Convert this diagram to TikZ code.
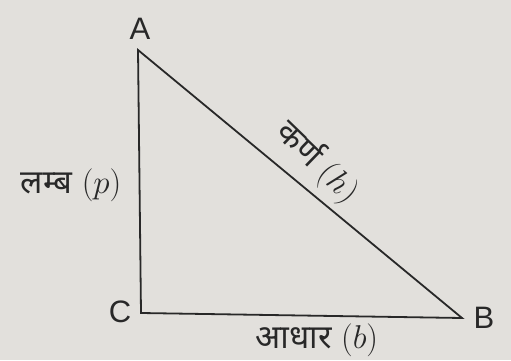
\RequirePackage{fix-cm}
\documentclass[tikz,border=0pt]{standalone}
\usepackage{fontspec}
\setmainfont{Liberation Sans}
\newfontfamily\devfont[Script=Devanagari]{Noto Sans}
\definecolor{bgc}{RGB}{226,224,220}
\definecolor{inkc}{RGB}{40,40,40}
\begin{document}
\begin{tikzpicture}[x=1pt,y=1pt,
  side/.style={draw=inkc,line width=1.8pt},
  vlabel/.style={text=inkc,font=\fontsize{31}{34}\selectfont,inner sep=0pt},
  slabel/.style={text=inkc,font=\fontsize{33}{38}\selectfont,inner sep=0pt}]
\fill[bgc] (0,0) rectangle (511,360);
\useasboundingbox (0,0) rectangle (511,360);
\coordinate (A) at (138,310);
\coordinate (C) at (141,47);
\coordinate (B) at (462,42);
\draw[side,line join=miter] (A) -- (C) -- (B) -- cycle;
\node[vlabel] (la) at (140,331) {A};
\node[vlabel] (lc) at (120,48) {C};
\node[vlabel] (lb) at (484,42) {B};
\node[slabel] (lp) at (71,175) {{\devfont लम्ब} $(p)$};
\node[slabel,rotate=-44] (lh) at (318,198) {{\devfont कर्ण} $(h)$};
\node[slabel] (lbb) at (317,20) {{\devfont आधार} $(b)$};
\end{tikzpicture}
\end{document}
